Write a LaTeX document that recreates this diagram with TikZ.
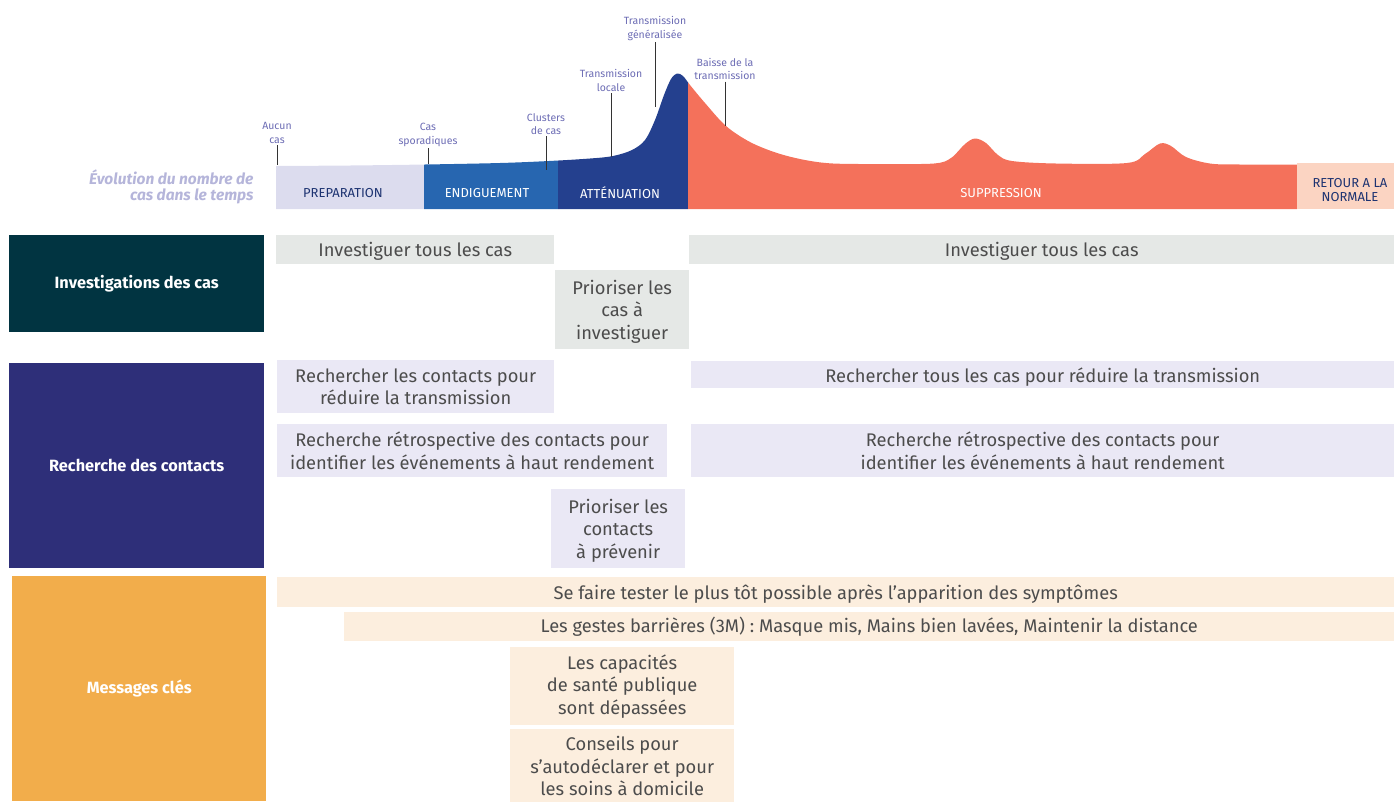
\documentclass[tikz,border=0pt]{standalone}
\usepackage{fontspec}
\setmainfont{Fira Sans}
\definecolor{prepcol}{HTML}{DCDCEE}
\definecolor{endigcol}{HTML}{2766B0}
\definecolor{attcol}{HTML}{24408E}
\definecolor{suppcol}{HTML}{F4715B}
\definecolor{retourcol}{HTML}{FBD4C2}
\definecolor{tagcol}{HTML}{6C6CB4}
\definecolor{evolcol}{HTML}{B5B5DA}
\definecolor{invcol}{HTML}{013441}
\definecolor{rechcol}{HTML}{2E2F79}
\definecolor{msgcol}{HTML}{F2AD4B}
\definecolor{invrow}{HTML}{E5E8E6}
\definecolor{rechrow}{HTML}{EAE8F5}
\definecolor{msgrow}{HTML}{FCEEDE}
\definecolor{rowtext}{HTML}{4C4C4C}
\tikzset{
  tag/.style={font=\fontsize{10.5}{13.5}\selectfont, text=tagcol, align=center, inner sep=1.5pt},
  tagline/.style={draw=black!80, line width=.7pt},
  phase/.style={font=\fontsize{13}{14}\selectfont, align=center},
  catbox/.style={anchor=north west, inner sep=0pt, text=white,
    font=\bfseries\fontsize{16.3}{18}\selectfont},
  rowbox/.style={anchor=north west, inner sep=0pt, text=rowtext, align=center,
    font=\fontsize{18.3}{22.5}\selectfont},
  lowtext/.style={text depth=0pt}
}
\begin{document}
\begin{tikzpicture}[x=1pt,y=-1pt]
  \path[use as bounding box, clip] (0,0) rectangle (1394,801);
  \path[save path=\curvepath] (276,209) -- plot[smooth, tension=.55] coordinates {(276,166) (350,165.5) (425,164.5)
    (500,163) (549,161) (590,158.5) (613,156) (632,150) (645,140) (655,120)
    (664,95) (671,79) (677,73.5) (683,76) (690,85) (705,103) (726,126) (750,142)
    (777,153) (805,160) (833,163.5) (880,164) (934,163.5) (951,158) (965,144)
    (975,138.5) (986,143) (998,155) (1012,161) (1056,163.5) (1127,163) (1145,154)
    (1160,143.5) (1171,146) (1186,157) (1210,163.5) (1240,164.5) (1324,164.5)} -- (1324,209) -- cycle;
  % curve split in phases
  \foreach \xa/\xb/\col in {276/424/prepcol, 424/558/endigcol, 558/688/attcol, 688/1297/suppcol}{
    \begin{scope}
      \clip (\xa,0) rectangle (\xb,209);
      \fill[\col, use path=\curvepath];
    \end{scope}
  }
  \fill[retourcol] (1297,163) rectangle (1394,209);
  % phase names
  \node[phase, text=attcol!80!black] (prep) at (343,193) {PREPARATION};
  \node[phase, text=white] (endig) at (487,193) {ENDIGUEMENT};
  \node[phase, text=white] (atten) at (620,193) {ATTÉNUATION};
  \node[phase, text=white] (supp) at (1001,193) {SUPPRESSION};
  \node[phase, text=attcol!80!black] (retour) at (1350,190) {RETOUR A LA\\NORMALE};
  \node[font=\bfseries\itshape\fontsize{15.5}{16}\selectfont, text=evolcol, align=right,
    anchor=east] (evol) at (257,187) {Évolution du nombre de\\cas dans le temps};
  % tags on the curve
  \node[tag] (aucun) at (277,133) {Aucun\\cas};
  \node[tag] (sporad) at (428,135) {Cas\\sporadiques};
  \node[tag] (clust) at (546,124) {Clusters\\de cas};
  \node[tag] (locale) at (611,80.5) {Transmission\\locale};
  \node[tag] (general) at (655,28.5) {Transmission\\généralisée};
  \node[tag] (baisse) at (725,69) {Baisse de la\\transmission};
  \coordinate (aucunEnd) at (277,165);
  \coordinate (sporadEnd) at (429,164);
  \coordinate (clustEnd) at (547,170);
  \coordinate (localeEnd) at (612,157);
  \coordinate (generalEnd) at (656,107);
  \coordinate (baisseEnd) at (726,126);
  \foreach \t in {aucun, sporad, clust, locale, general, baisse}
    \draw[tagline] (\t.south) -- (\t.south |- \t End);
  % categories
  \node[catbox, fill=invcol, minimum width=255pt, minimum height=97pt] (catInv) at (9,235) {Investigations des cas};
  \node[catbox, fill=rechcol, minimum width=255pt, minimum height=205pt] (catRech) at (9,363) {Recherche des contacts};
  \node[catbox, fill=msgcol, minimum width=254pt, minimum height=225pt] (catMsg) at (12,576) {Messages clés};
  % investigations
  \node[rowbox, lowtext, fill=invrow, minimum width=278pt, minimum height=29pt] (invA) at (276,235) {Investiguer tous les cas};
  \node[rowbox, lowtext, fill=invrow, minimum width=705pt, minimum height=29pt] (invB) at (689,235) {Investiguer tous les cas};
  \node[rowbox, lowtext, fill=invrow, minimum width=134pt, minimum height=79pt] (invPrio) at (555,270) {Prioriser les\\cas à\\investiguer};
  % contacts
  \node[rowbox, fill=rechrow, minimum width=277pt, minimum height=53pt] (rechA) at (277,360) {Rechercher les contacts pour\\réduire la transmission};
  \node[rowbox, lowtext, fill=rechrow, minimum width=703pt, minimum height=27pt] (rechB) at (691,361) {Rechercher tous les cas pour réduire la transmission};
  \node[rowbox, fill=rechrow, minimum width=390pt, minimum height=53pt] (retroA) at (277,424) {Recherche rétrospective des contacts pour\\identifier les événements à haut rendement};
  \node[rowbox, fill=rechrow, minimum width=703pt, minimum height=53pt] (retroB) at (691,424) {Recherche rétrospective des contacts pour\\identifier les événements à haut rendement};
  \node[rowbox, lowtext, fill=rechrow, minimum width=134pt, minimum height=79pt] (rechPrio) at (551,489) {Prioriser les\\contacts\\à prévenir};
  % messages
  \node[rowbox, lowtext, fill=msgrow, minimum width=1117pt, minimum height=30pt] (msgTest) at (277,577) {Se faire tester le plus tôt possible après l’apparition des symptômes};
  \node[rowbox, fill=msgrow, minimum width=1050pt, minimum height=29pt] (msgGestes) at (344,612) {Les gestes barrières (3M) : Masque mis, Mains bien lavées, Maintenir la distance};
  \node[rowbox, fill=msgrow, minimum width=224pt, minimum height=78pt] (msgCap) at (510,647) {Les capacités\\de santé publique\\sont dépassées};
  \node[rowbox, fill=msgrow, minimum width=224pt, minimum height=74pt] (msgConseil) at (510,729) {Conseils pour\\s’autodéclarer et pour\\les soins à domicile};
\end{tikzpicture}
\end{document}
